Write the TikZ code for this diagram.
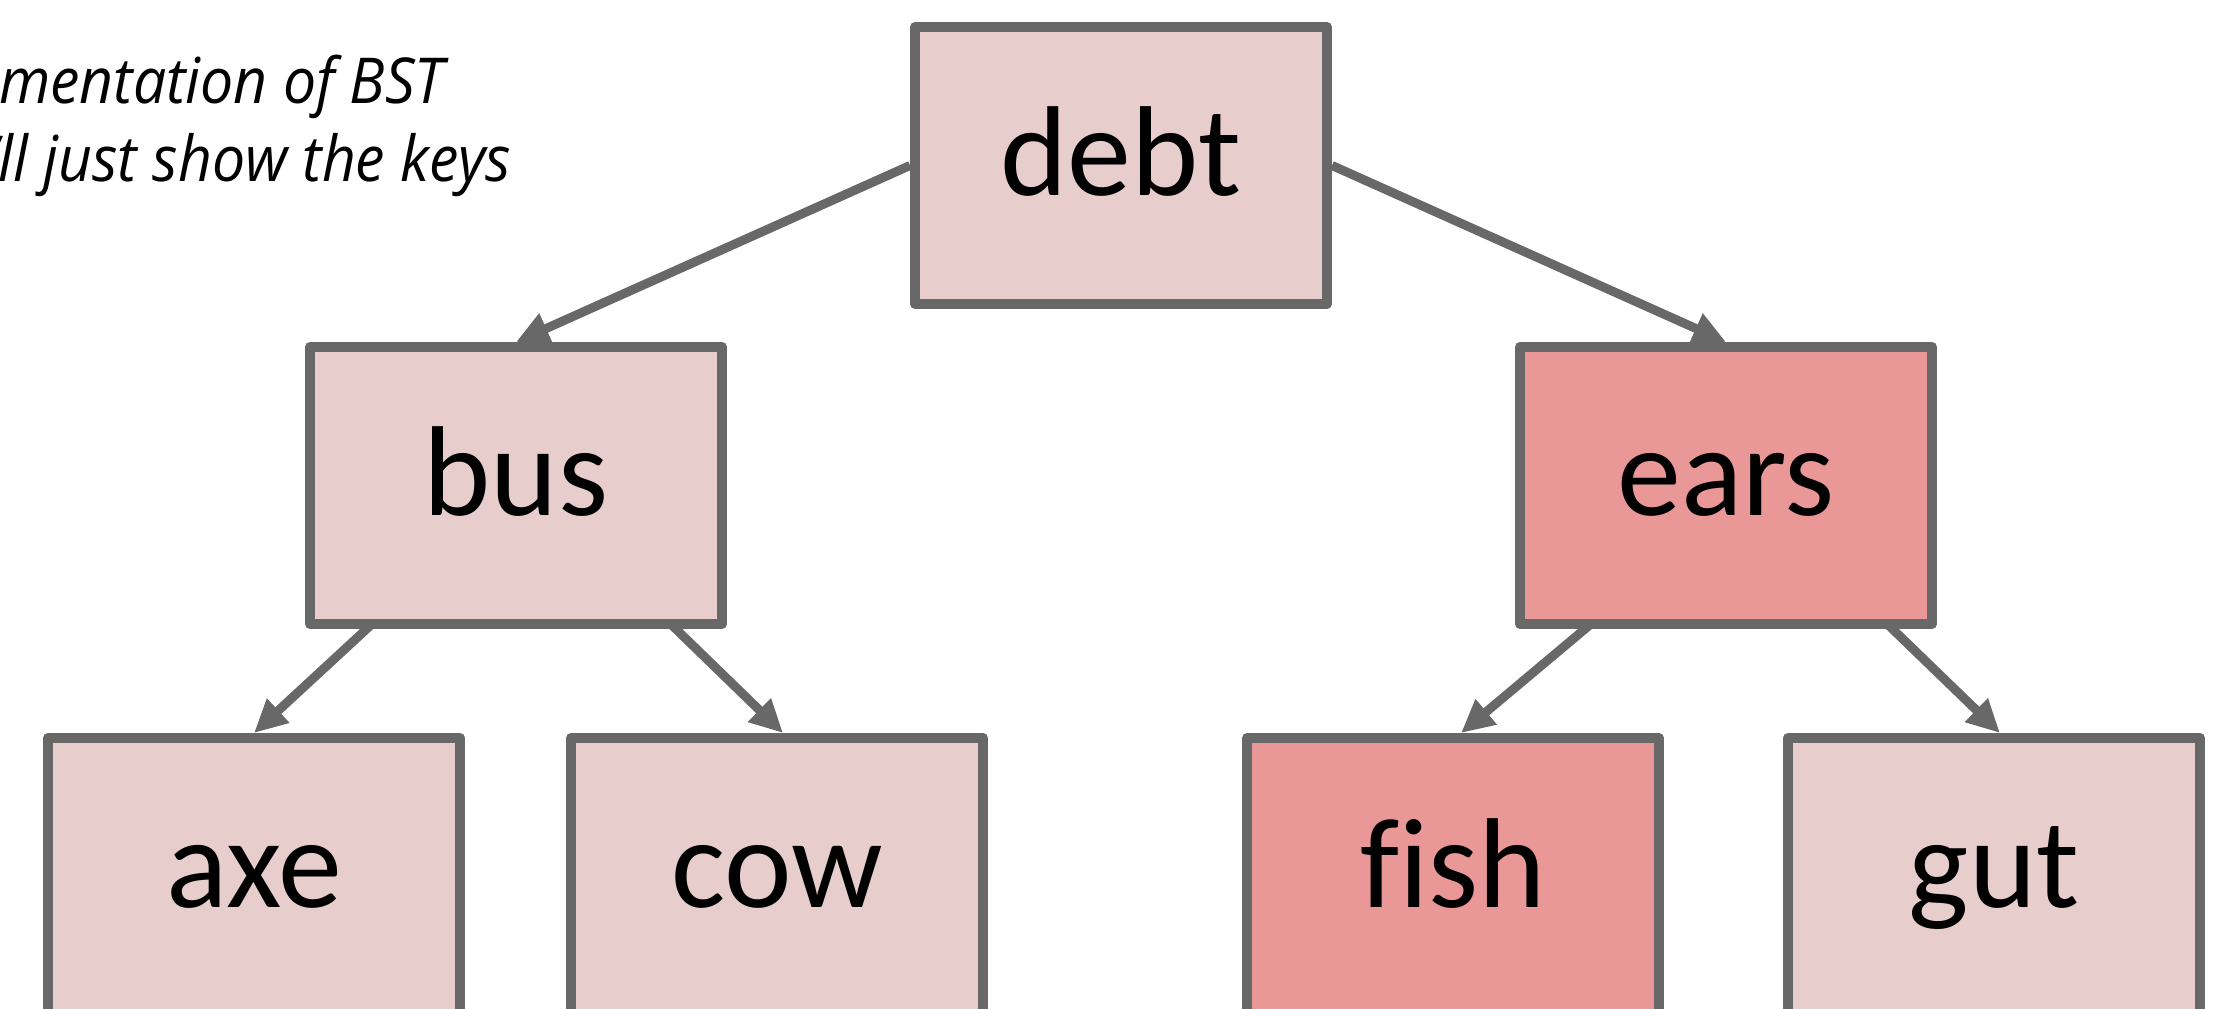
\documentclass[tikz,border=0pt]{standalone}
\usepackage{fontspec}
\setmainfont{Carlito}[Ligatures=NoCommon]
\newfontfamily\notefont{Open Sans}[FakeStretch=0.93]
\usetikzlibrary{arrows.meta,backgrounds,calc}

\definecolor{edgegray}{RGB}{104,104,104}
\definecolor{keypale}{RGB}{232,205,205}
\definecolor{keyhot}{RGB}{233,151,151}

\tikzset{
  keybox/.style={draw=edgegray, line width=3pt, line join=round, fill=keypale,
    minimum width=123.6pt, inner sep=0pt, text height=50.7pt, text depth=32.4pt,
    anchor=north, font=\fontsize{38.4pt}{40pt}\selectfont},
  hot/.style={fill=keyhot},
  lowrow/.style={text depth=37pt},
  link/.style={draw=edgegray, line width=2.7pt,
    -{Triangle[length=9.9pt,width=9.3pt]}},
  note/.style={anchor=base east, inner sep=0pt,
    font=\notefont\itshape\fontsize{19pt}{22pt}\selectfont}
}

\begin{document}
\begin{tikzpicture}[x=0.3pt, y=-0.3pt]
  \useasboundingbox (0,0) rectangle (2228,1009);

  % caption lines
  \node[note] (cap1) at (445,104) {Implementation of BST};
  \node[note] (cap2) at (512,182) {We’ll just show the keys};

  % tree of keys
  \node[keybox] (debt) at (1121,22) {debt};
  \node[keybox] (bus)  at (516,342) {bus};
  \node[keybox, hot] (ears) at (1726,342) {ears};
  \node[keybox, lowrow] (axe)  at (254,733) {axe};
  \node[keybox, lowrow] (cow)  at (777,733) {cow};
  \node[keybox, lowrow, hot] (fish) at (1453,733) {fish};
  \node[keybox, lowrow] (gut)  at (1994,733) {gut};

  % links run behind the boxes
  \begin{scope}[on background layer]
    \draw[link] (debt.west) -- (bus.north);
    \draw[link] (debt.east) -- (ears.north);
    \draw[link] ($(bus.center)+(6,0)$) -- (axe.north);
    \draw[link] ($(bus.center)+(12,0)$) -- ($(cow.north)+(6,0)$);
    \draw[link] ($(ears.center)+(30,0)$) -- ($(fish.north)+(8,0)$);
    \draw[link] ($(ears.center)+(18,0)$) -- ($(gut.north)+(6,0)$);
  \end{scope}
\end{tikzpicture}
\end{document}
